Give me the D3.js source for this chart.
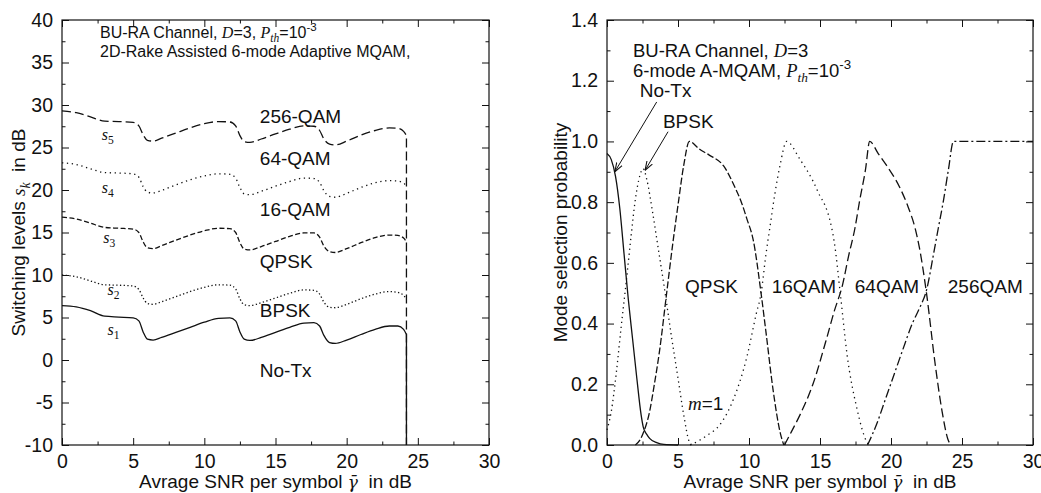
<!DOCTYPE html>
<html>
<head>
<meta charset="utf-8">
<script src="https://cdn.jsdelivr.net/npm/d3@7"></script>
<style>
body { margin: 0; background: #fff; }
svg { display: block; }
.tick text { font-family: "Liberation Sans", Arial, sans-serif; font-size: 19.5px; fill: #111; }
.tick line { stroke: #111; stroke-width: 1; }
.frame { fill: none; stroke: #111; stroke-width: 1.2; }
.curve { fill: none; stroke: #111; stroke-width: 1.3; }
.lbl { font-family: "Liberation Sans", Arial, sans-serif; font-size: 16px; fill: #111; }
.mode { font-size: 19px; }
.axisTitle { font-family: "Liberation Sans", Arial, sans-serif; font-size: 19px; fill: #111; }
.it { font-family: "Liberation Serif", "Times New Roman", serif; font-style: italic; }
.rm { font-family: "Liberation Serif", "Times New Roman", serif; }
.gam { font-family: "DejaVu Serif", serif; font-style: italic; font-size: 17px; }
.arrow { stroke: #111; stroke-width: 1; fill: none; }
</style>
</head>
<body>
<div id="chart"></div>
<script>
// tick values
var snrTicks = [0, 5, 10, 15, 20, 25, 30];
var snrMinor = [2.5, 7.5, 12.5, 17.5, 22.5, 27.5];
var levelTicks = [-10, -5, 0, 5, 10, 15, 20, 25, 30, 35, 40];
var levelMinor = [-7.5, -2.5, 2.5, 7.5, 12.5, 17.5, 22.5, 27.5, 32.5, 37.5];
var probTicks = [0, 0.2, 0.4, 0.6, 0.8, 1.0, 1.2, 1.4];
var probMinor = [0.1, 0.3, 0.5, 0.7, 0.9, 1.1, 1.3];

// switching levels s_k in dB [snr, level]
var s1Levels = [[0,6.4],[1,6.25],[2,5.8],[3,5.15],[4,5.05],[5,4.95],[5.4,4.6],[5.7,3.3],[6.0,2.45],[6.4,2.35],[7,2.65],[8,3.25],[9,3.85],[10,4.45],[11,4.9],[11.8,4.95],[12.2,4.6],[12.5,3.3],[12.8,2.45],[13.2,2.3],[14,2.65],[15,3.25],[16,3.85],[17,4.35],[17.7,4.4],[18.1,4.0],[18.4,2.9],[18.8,2.05],[19.2,1.95],[20,2.35],[21,3.0],[22,3.6],[23,4.0],[23.6,4.0],[24.0,3.6],[24.2,3.0],[24.2,-10]];
var s2Levels = [[0,10.0],[1,9.8],[2,9.3],[3,8.85],[4,8.8],[5,8.7],[5.4,8.3],[5.7,7.3],[6.0,6.65],[6.4,6.55],[7,6.85],[8,7.45],[9,8.05],[10,8.55],[11,8.85],[11.8,8.8],[12.2,8.35],[12.5,7.2],[12.8,6.5],[13.2,6.4],[14,6.75],[15,7.3],[16,7.85],[17,8.25],[17.7,8.2],[18.1,7.75],[18.4,6.8],[18.8,6.2],[19.2,6.15],[20,6.55],[21,7.2],[22,7.75],[23,8.05],[23.6,7.95],[24.0,7.6],[24.2,7.2]];
var s3Levels = [[0,16.8],[1,16.6],[2,16.1],[3,15.6],[4,15.5],[5,15.4],[5.4,15.0],[5.7,13.9],[6.0,13.2],[6.4,13.1],[7,13.45],[8,14.1],[9,14.7],[10,15.2],[11,15.5],[11.8,15.45],[12.2,15.0],[12.5,13.8],[12.8,13.05],[13.2,12.95],[14,13.35],[15,13.95],[16,14.55],[17,14.95],[17.7,14.95],[18.1,14.45],[18.4,13.4],[18.8,12.75],[19.2,12.65],[20,13.1],[21,13.8],[22,14.4],[23,14.7],[23.6,14.65],[24.0,14.35],[24.2,13.9]];
var s4Levels = [[0,23.2],[1,23.0],[2,22.5],[3,22.05],[4,22.0],[5,21.9],[5.4,21.5],[5.7,20.4],[6.0,19.75],[6.4,19.65],[7,19.95],[8,20.6],[9,21.2],[10,21.65],[11,21.9],[11.8,21.85],[12.2,21.4],[12.5,20.3],[12.8,19.55],[13.2,19.45],[14,19.85],[15,20.45],[16,21.0],[17,21.4],[17.7,21.35],[18.1,20.9],[18.4,19.9],[18.8,19.25],[19.2,19.15],[20,19.6],[21,20.3],[22,20.85],[23,21.1],[23.6,21.05],[24.0,20.8],[24.2,20.5]];
var s5Levels = [[0,29.3],[1,29.1],[2,28.6],[3,28.1],[4,28.05],[5,27.95],[5.4,27.55],[5.7,26.5],[6.0,25.85],[6.4,25.75],[7,26.1],[8,26.7],[9,27.3],[10,27.8],[11,28.05],[11.8,28.0],[12.2,27.55],[12.5,26.4],[12.8,25.7],[13.2,25.6],[14,26.0],[15,26.6],[16,27.15],[17,27.55],[17.7,27.5],[18.1,27.0],[18.4,26.0],[18.8,25.4],[19.2,25.3],[20,25.75],[21,26.45],[22,27.0],[23,27.3],[23.6,27.25],[24.0,26.9],[24.2,26.4],[24.2,-10]];

// mode selection probabilities [snr, prob]
var pNoTx = [[0,0.96],[0.3,0.94],[0.6,0.885],[0.9,0.78],[1.2,0.63],[1.5,0.48],[1.8,0.35],[2.1,0.22],[2.4,0.10],[2.55,0.06],[2.8,0.035],[3.0,0.022],[3.5,0.008],[4.0,0.002],[5.0,0]];
var pBpsk = [[0,0.05],[0.3,0.11],[0.66,0.24],[1.0,0.39],[1.36,0.54],[1.7,0.69],[2.0,0.81],[2.3,0.885],[2.55,0.91],[2.8,0.875],[3.2,0.77],[3.6,0.65],[4.0,0.53],[4.5,0.37],[5.0,0.22],[5.4,0.10],[5.8,0.01],[6.0,0]];
var pQpsk = [[2.0,0],[2.3,0.015],[2.6,0.045],[3.0,0.11],[3.3,0.19],[3.7,0.31],[4.2,0.50],[4.65,0.67],[5.0,0.79],[5.4,0.92],[5.8,1.0],[6.5,0.975],[7.2,0.955],[8.2,0.92],[9.0,0.85],[9.5,0.795],[9.85,0.745],[10.3,0.675],[10.85,0.50],[11.2,0.37],[11.7,0.18],[12.2,0.04],[12.45,0]];
var p16qam = [[5.85,0],[6.5,0.015],[7.0,0.03],[8.0,0.07],[8.9,0.15],[9.85,0.29],[10.5,0.43],[10.85,0.50],[11.2,0.63],[11.45,0.71],[11.83,0.83],[12.18,0.92],[12.65,1.0],[13.6,0.94],[14.5,0.87],[15.0,0.82],[15.35,0.79],[15.7,0.74],[16.0,0.67],[16.45,0.49],[16.9,0.30],[17.6,0.12],[18.3,0.01],[18.45,0]];
var p64qam = [[12.5,0],[13.0,0.045],[13.6,0.10],[14.5,0.20],[15.4,0.34],[16.0,0.44],[16.6,0.53],[17.0,0.62],[17.46,0.714],[17.8,0.807],[18.2,0.906],[18.5,1.0],[19.1,0.96],[19.7,0.92],[20.6,0.85],[21.2,0.785],[21.7,0.714],[22.0,0.65],[22.5,0.50],[23.1,0.27],[23.6,0.11],[24.0,0.02],[24.2,0]];
var p256qam = [[18.35,0],[19.0,0.07],[19.6,0.15],[20.2,0.23],[20.8,0.31],[21.5,0.40],[22.0,0.45],[22.5,0.51],[23.0,0.63],[23.33,0.714],[23.7,0.807],[24.04,0.906],[24.4,1.0],[30,1.0]];

var svg = d3.select("#chart").append("svg")
    .attr("width", 1041)
    .attr("height", 493);

svg.append("defs").append("marker")
    .attr("id", "head")
    .attr("viewBox", "0 0 10 10")
    .attr("refX", 10).attr("refY", 5)
    .attr("markerWidth", 9).attr("markerHeight", 9)
    .attr("orient", "auto")
  .append("path")
    .attr("d", "M0,1.5 L10,5 L0,8.5")
    .attr("fill", "none").attr("stroke", "#111").attr("stroke-width", 1.2);

/**
 * One framed plot with inward ticks on all four sides
 */
function Panel(opts) {
    var self = this;
    self.opts = opts;
    self.x = d3.scaleLinear().domain([0, 30]).range(opts.xRange);
    self.y = d3.scaleLinear().domain(opts.yDomain).range([445, 20]);
    self.g = svg.append("g");
    self.drawAxes();
    self.drawCurves();
    self.drawLabels();
}

Panel.prototype.drawAxes = function () {
    var self = this, o = self.opts;
    var x0 = self.x.range()[0], x1 = self.x.range()[1];
    var yb = self.y.range()[0], yt = self.y.range()[1];

    var strip = function (g) { g.select(".domain").remove(); };

    // major ticks with labels (plain hyphen for negatives, as in the original)
    self.g.append("g").attr("transform", "translate(0," + yb + ")")
        .call(d3.axisBottom(self.x).tickValues(snrTicks).tickSize(-7).tickPadding(9).tickFormat(function (d) { return String(d); }))
        .call(strip);
    self.g.append("g").attr("transform", "translate(" + x0 + ",0)")
        .call(d3.axisLeft(self.y).tickValues(o.yTicks).tickSize(-7).tickPadding(9).tickFormat(o.yFormat))
        .call(strip);
    // ticks without labels on the other sides, and minor ticks
    var bare = [
        [d3.axisBottom, self.x, snrMinor, 3.5, yb],
        [d3.axisTop, self.x, snrTicks, 7, yt],
        [d3.axisTop, self.x, snrMinor, 3.5, yt],
        [d3.axisLeft, self.y, o.yMinor, 3.5, x0],
        [d3.axisRight, self.y, o.yTicks, 7, x1],
        [d3.axisRight, self.y, o.yMinor, 3.5, x1]
    ];
    bare.forEach(function (b) {
        var horiz = (b[0] === d3.axisBottom || b[0] === d3.axisTop);
        self.g.append("g")
            .attr("transform", horiz ? "translate(0," + b[4] + ")" : "translate(" + b[4] + ",0)")
            .call(b[0](b[1]).tickValues(b[2]).tickSize(-b[3]).tickFormat(""))
            .call(strip);
    });

    self.g.append("rect").attr("class", "frame")
        .attr("x", x0).attr("y", yt)
        .attr("width", x1 - x0).attr("height", yb - yt);

    // axis titles
    richText(self.g, (x0 + x1) / 2, 488, o.xTitle, "axisTitle", "middle");
    var yl = richText(self.g, 0, 0, o.yTitle, "axisTitle", "middle");
    yl.attr("transform", "translate(" + o.yTitleX + "," + (yb + yt) / 2 + ") rotate(-90)");
};

Panel.prototype.pathFor = function (values) {
    var self = this;
    var line = d3.line()
        .x(function (d) { return self.x(d[0]); })
        .y(function (d) { return self.y(d[1]); })
        .curve(d3.curveMonotoneX);
    var last = values[values.length - 1], prev = values[values.length - 2];
    // a vertical drop at the end of the curve
    if (last[0] === prev[0]) {
        return line(values.slice(0, -1)) + "L" + self.x(last[0]) + "," + self.y(last[1]);
    }
    return line(values);
};

Panel.prototype.drawCurves = function () {
    var self = this;
    self.g.selectAll("path.curve")
        .data(self.opts.series)
        .enter()
        .append("path")
        .attr("class", "curve")
        .attr("d", function (d) { return self.pathFor(d.values); })
        .attr("stroke-dasharray", function (d) { return d.dash; });
};

Panel.prototype.drawLabels = function () {
    var self = this;
    self.opts.labels.forEach(function (l) {
        var t = richText(self.g, self.x(l.at[0]), self.y(l.at[1]), l.parts, l.mode ? "lbl mode" : "lbl", "start");
        if (l.size) t.style("font-size", l.size + "px");
    });
    (self.opts.arrows || []).forEach(function (a) {
        self.g.append("line").attr("class", "arrow")
            .attr("x1", self.x(a.from[0])).attr("y1", self.y(a.from[1]))
            .attr("x2", self.x(a.to[0])).attr("y2", self.y(a.to[1]))
            .attr("marker-end", "url(#head)");
    });
};

// text made of pieces: plain, italic math, subscripts and superscripts
function richText(g, x, y, parts, cls, anchor) {
    var t = g.append("text").attr("class", cls).attr("x", x).attr("y", y)
        .attr("text-anchor", anchor).attr("xml:space", "preserve");
    var shift = 0;
    parts.forEach(function (p) {
        if (typeof p === "string") p = {t: p};
        var small = p.sub || p.sup;
        var want = p.sub ? 0.25 : (p.sup ? -0.45 : 0);
        // dy on a smaller tspan is measured in its own font size
        var dy = small ? (want - shift) / 0.72 : (want - shift);
        var s = t.append("tspan").text(p.t).attr("dy", dy + "em");
        var cl = [];
        if (p.it) cl.push("it");
        if (p.rm) cl.push("rm");
        if (p.gam) cl.push("gam");
        if (cl.length) s.attr("class", cl.join(" "));
        if (small) s.style("font-size", "72%");
        shift = want;
    });
    return t;
}

// gamma with a combining bar over it
var xTitleParts = ["Avrage SNR per symbol ", {t: "\u03b3\u0304", gam: true}, "  in dB"];

var leftPanel = new Panel({
    xRange: [62, 489],
    yDomain: [-10, 40],
    yTicks: levelTicks,
    yMinor: levelMinor,
    yFormat: function (d) { return String(d); },
    yTitleX: 25,
    xTitle: xTitleParts,
    yTitle: ["Switching levels ", {t: "s", it: true}, {t: "k", it: true, sub: true}, "  in dB"],
    series: [
        {values: s5Levels, dash: "9,4"},
        {values: s4Levels, dash: "1.3,3.6"},
        {values: s3Levels, dash: "5,2.5"},
        {values: s2Levels, dash: "1.3,2.4"},
        {values: s1Levels, dash: null}
    ],
    labels: [
        {at: [2.67, 37.9], parts: ["BU-RA Channel, ", {t: "D", it: true}, "=3, ", {t: "P", it: true}, {t: "th", it: true, sub: true}, "=10", {t: "-3", sup: true}]},
        {at: [2.67, 35.7], parts: ["2D-Rake Assisted 6-mode Adaptive MQAM,"]},
        {at: [13.9, 27.9], parts: ["256-QAM"], mode: true},
        {at: [13.9, 22.9], parts: ["64-QAM"], mode: true},
        {at: [13.9, 16.9], parts: ["16-QAM"], mode: true},
        {at: [13.9, 10.8], parts: ["QPSK"], mode: true},
        {at: [13.9, 5.1], parts: ["BPSK"], mode: true},
        {at: [13.9, -2.0], parts: ["No-Tx"], mode: true},
        {at: [2.8, 25.9], parts: [{t: "s", it: true}, {t: "5", rm: true, sub: true}]},
        {at: [2.8, 19.7], parts: [{t: "s", it: true}, {t: "4", rm: true, sub: true}]},
        {at: [2.9, 13.8], parts: [{t: "s", it: true}, {t: "3", rm: true, sub: true}]},
        {at: [3.2, 7.7], parts: [{t: "s", it: true}, {t: "2", rm: true, sub: true}]},
        {at: [3.2, 2.9], parts: [{t: "s", it: true}, {t: "1", rm: true, sub: true}]}
    ]
});

var rightPanel = new Panel({
    xRange: [607, 1033],
    yDomain: [0, 1.4],
    yTicks: probTicks,
    yMinor: probMinor,
    yFormat: d3.format(".1f"),
    yTitleX: 567,
    xTitle: xTitleParts,
    yTitle: ["Mode selection probability"],
    series: [
        {values: pNoTx, dash: null},
        {values: pBpsk, dash: "1.3,3.6"},
        {values: pQpsk, dash: "7,2.5"},
        {values: p16qam, dash: "1.3,4"},
        {values: p64qam, dash: "9,4"},
        {values: p256qam, dash: "9,3,2,3"}
    ],
    labels: [
        {at: [1.83, 1.278], parts: ["BU-RA Channel, ", {t: "D", it: true}, "=3"], size: 18.5},
        {at: [1.83, 1.212], parts: ["6-mode A-MQAM, ", {t: "P", it: true}, {t: "th", it: true, sub: true}, "=10", {t: "-3", sup: true}], size: 18.5},
        {at: [2.3, 1.146], parts: ["No-Tx"], mode: true},
        {at: [3.94, 1.044], parts: ["BPSK"], mode: true},
        {at: [5.5, 0.50], parts: ["QPSK"], mode: true},
        {at: [11.6, 0.50], parts: ["16QAM"], mode: true},
        {at: [17.45, 0.50], parts: ["64QAM"], mode: true},
        {at: [24.0, 0.50], parts: ["256QAM"], mode: true},
        {at: [5.7, 0.115], parts: [{t: "m", it: true}, "=1"], mode: true}
    ],
    arrows: [
        {from: [3.5, 1.13], to: [0.55, 0.9]},
        {from: [4.3, 1.032], to: [2.68, 0.905]}
    ]
});
</script>
</body>
</html>
